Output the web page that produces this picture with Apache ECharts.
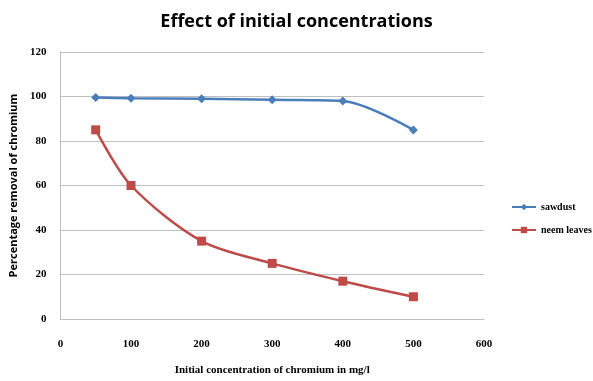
<!DOCTYPE html>
<html>
<head>
<meta charset="utf-8">
<script src="https://cdn.jsdelivr.net/npm/echarts@6/dist/echarts.min.js"></script>
<style>html,body{margin:0;padding:0;background:#fff}#chart{width:593px;height:381px}</style>
</head>
<body>
<div id="chart"></div>
<script>
var concentrations = [50, 100, 200, 300, 400, 500];
var sawdust = [99.5, 99.2, 99, 98.5, 98, 85];
var neemLeaves = [85, 60, 35, 25, 17, 10];

function pairs(xs, ys) {
    return xs.map(function (x, i) { return [x, ys[i]]; });
}

var myChart = echarts.init(document.getElementById('chart'));
var labelFont = { fontFamily: 'Liberation Serif', fontWeight: 'bold', fontSize: 11, color: '#000' };
option = {
    title: {
        text: 'Effect of initial concentrations',
        left: 'center',
        top: 8,
        textStyle: { fontFamily: 'Open Sans', fontWeight: 'bold', fontSize: 18, color: '#000' }
    },
    legend: {
        orient: 'vertical',
        left: 506,
        top: 197,
        itemWidth: 24,
        itemHeight: 8,
        itemGap: 13,
        textStyle: { fontFamily: 'Liberation Serif', fontWeight: 'bold', fontSize: 10, color: '#000' },
        data: ['sawdust', 'neem leaves']
    },
    grid: { left: 56, right: 109, top: 52, bottom: 56 },
    xAxis: {
        type: 'value',
        min: 0,
        max: 600,
        interval: 100,
        name: 'Initial concentration of chromium in mg/l',
        nameLocation: 'middle',
        nameGap: 46,
        nameTextStyle: labelFont,
        axisLine: { lineStyle: { color: '#bfbfbf' } },
        axisTick: { show: false },
        splitLine: { show: false },
        axisLabel: Object.assign({ margin: 20 }, labelFont)
    },
    yAxis: {
        type: 'value',
        min: 0,
        max: 120,
        interval: 20,
        name: 'Percentage removal of chromium',
        nameLocation: 'middle',
        nameGap: 38,
        nameTextStyle: { fontFamily: 'Open Sans', fontWeight: 'bold', fontSize: 11, color: '#000' },
        axisLine: { show: true, lineStyle: { color: '#bfbfbf' } },
        axisTick: { show: false },
        splitLine: { lineStyle: { color: '#bfbfbf' } },
        axisLabel: Object.assign({ margin: 14 }, labelFont)
    },
    series: [
        {
            name: 'sawdust',
            type: 'line',
            smooth: 0.3,
            symbol: 'diamond',
            symbolSize: 9,
            itemStyle: { color: '#4a7ebb' },
            lineStyle: { width: 2.5, color: '#4a7ebb' },
            data: pairs(concentrations, sawdust)
        },
        {
            name: 'neem leaves',
            type: 'line',
            smooth: 0.3,
            symbol: 'rect',
            symbolSize: 9,
            itemStyle: { color: '#be4b48' },
            lineStyle: { width: 2.5, color: '#be4b48' },
            data: pairs(concentrations, neemLeaves)
        }
    ]
};
myChart.setOption(option);
</script>
</body>
</html>
